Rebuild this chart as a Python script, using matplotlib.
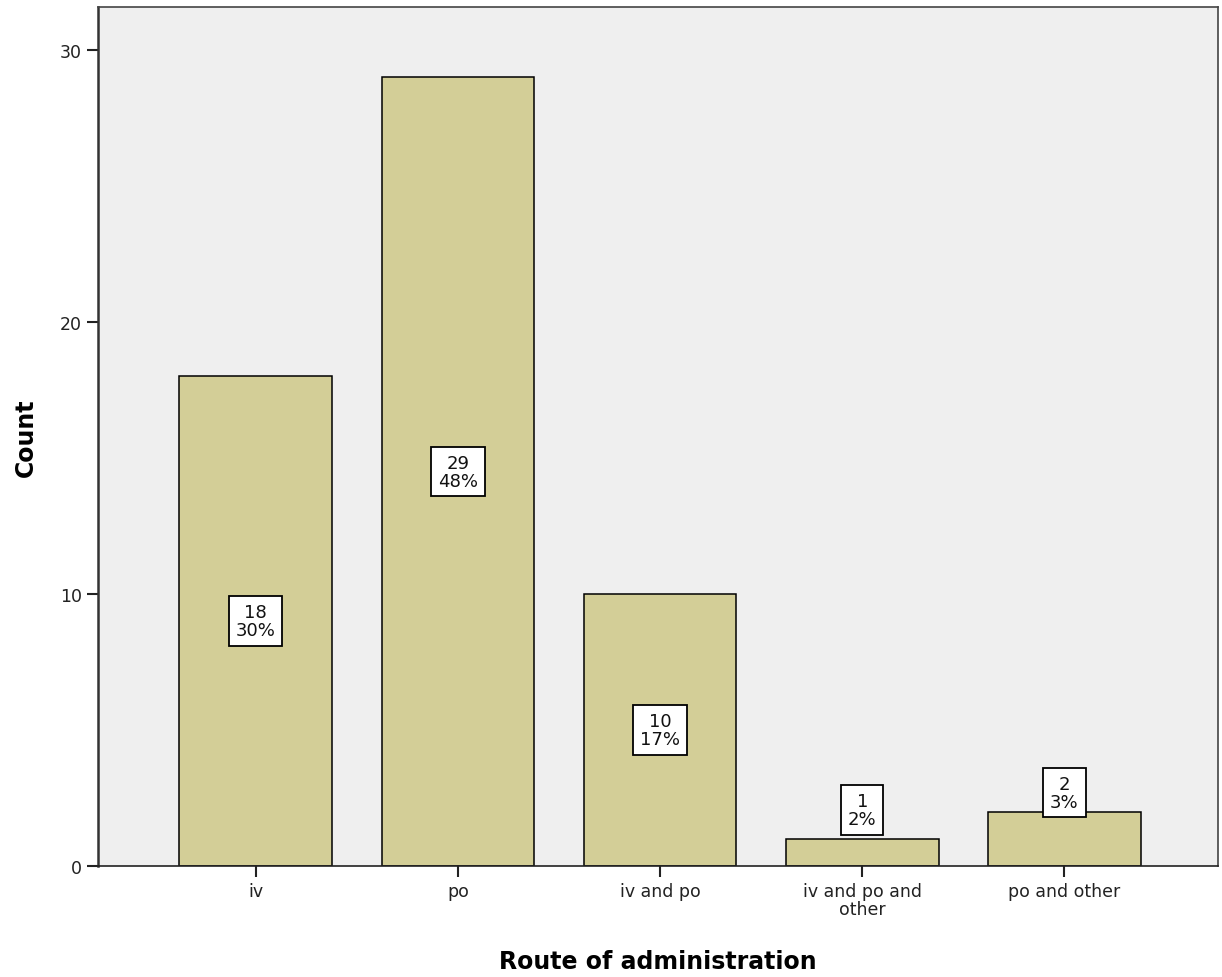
import matplotlib
matplotlib.use("Agg")
import matplotlib.pyplot as plt

categories = ["iv", "po", "iv and po", "iv and po and\nother", "po and other"]
counts = [18, 29, 10, 1, 2]
percents = ["30%", "48%", "17%", "2%", "3%"]
yticks = [0, 10, 20, 30]

plt.rcParams['font.family'] = ['DejaVu Sans']

fig = plt.figure(figsize=(12.22, 9.78), dpi=100)
ax = fig.add_axes([98/1222, 111/978, 1120/1222, 859/978])
ax.set_facecolor('#EFEFEF')

x = list(range(len(categories)))
ax.bar(x, counts, width=0.755, color='#D3CE97', edgecolor='black', linewidth=1.1, zorder=2)

for xi, v, p in zip(x, counts, percents):
    yc = v / 2 if v >= 5 else 1.4 + 0.65 * v
    ax.text(xi, yc, f"{v}\n{p}", ha='center', va='center', fontsize=13,
            linespacing=1.0, zorder=3, color='#111111',
            bbox=dict(boxstyle='square,pad=0.38', facecolor='white', edgecolor='black', linewidth=1.3))

ax.set_xlim(-0.78, 4.76)
ax.set_ylim(0, 31.58)
ax.set_xticks(x)
ax.set_xticklabels(categories, fontsize=12.5, linespacing=1.0)
ax.set_yticks(yticks)
ax.set_yticklabels([str(t) for t in yticks], fontsize=12.5)
ax.tick_params(axis='both', direction='out', length=8, width=1.5, color='#222222', labelcolor='#222222')
for s in ax.spines.values():
    s.set_linewidth(1.2)
    s.set_color('#444444')
ax.spines['left'].set_color('#333333')
ax.spines['left'].set_linewidth(1.8)
ax.spines['bottom'].set_color('#222222')

ax.set_xlabel("Route of administration", fontsize=17, fontweight='bold', labelpad=22)
ax.set_ylabel("Count", fontsize=17, fontweight='bold', labelpad=16)

fig.savefig("out.png", dpi=100)
